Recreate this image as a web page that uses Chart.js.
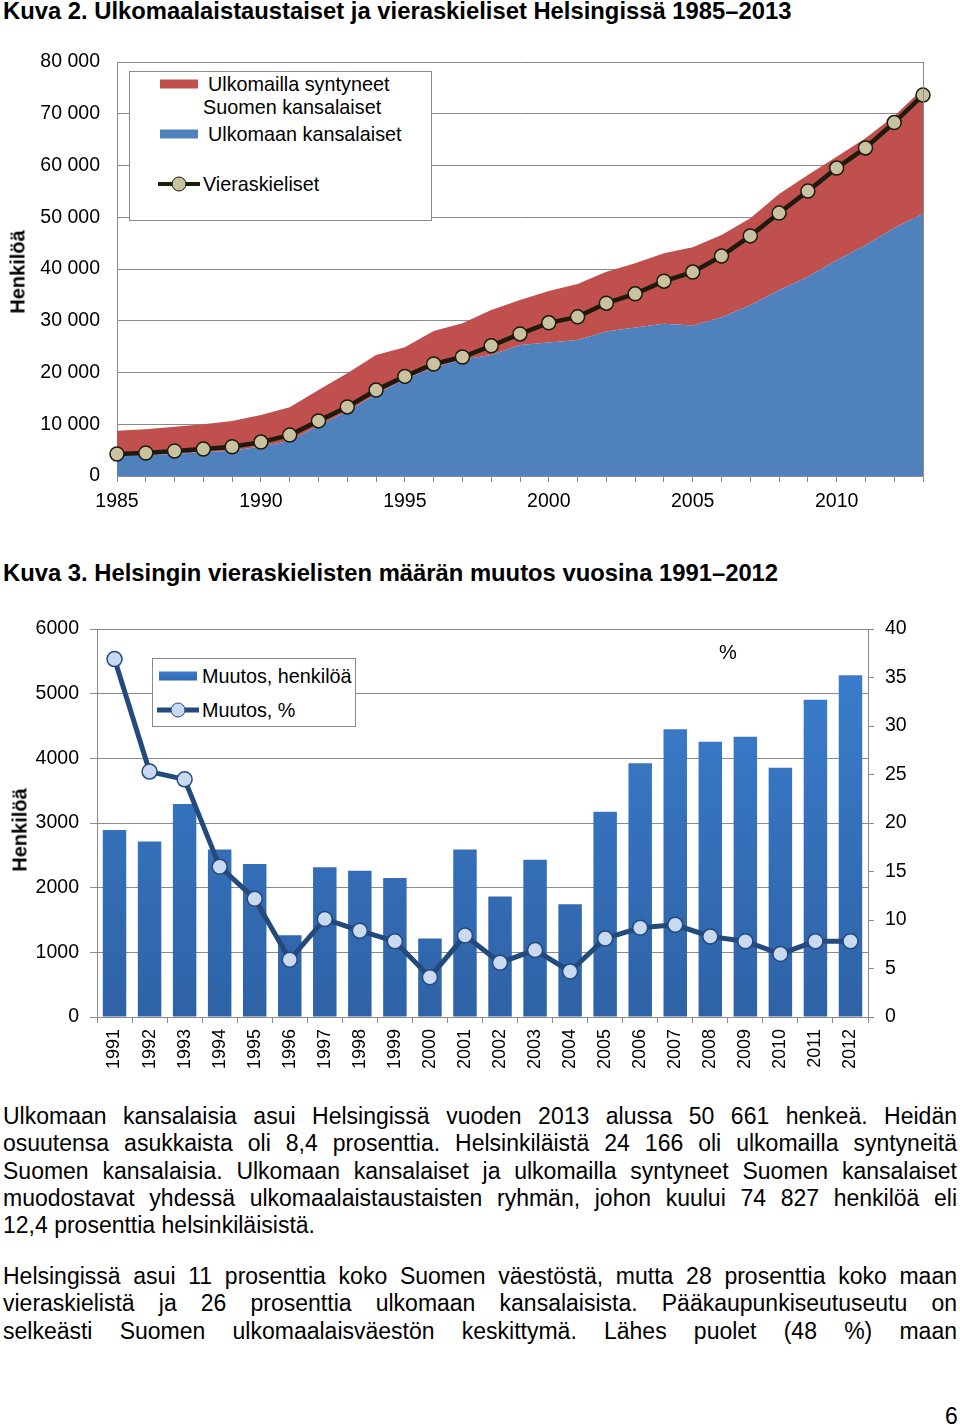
<!DOCTYPE html>
<html>
<head>
<meta charset="utf-8">
<script src="https://cdn.jsdelivr.net/npm/chart.js@4.4.1/dist/chart.umd.min.js"></script>
<style>
  body { margin: 0; background: #fff; font-family: "Liberation Sans", Arial, sans-serif; color: #000; }
  #page { position: relative; width: 960px; height: 1425px; overflow: hidden; }
  .abs { position: absolute; }
  .title { font-weight: bold; font-size: 23.8px; line-height: 26px; white-space: nowrap; left: 3px; }
  .ylab { font-weight: bold; font-size: 20px; white-space: nowrap; transform: translate(-50%, -50%) rotate(-90deg); }
  .legend { border: 1.5px solid #8a8a8a; background: #fff; box-sizing: border-box; }
  .leg { position: absolute; font-size: 19.8px; line-height: 22px; white-space: nowrap; transform: translateY(-50%); }
  .sw { position: absolute; height: 9px; width: 38px; transform: translateY(-50%); }
  .ln { position: absolute; width: 42px; transform: translateY(-50%); }
  .dot { position: absolute; border-radius: 50%; box-sizing: border-box; transform: translate(-50%, -50%); }
  .txt { left: 3px; width: 954px; font-size: 23px; line-height: 27.3px; }
  .j { text-align: justify; text-align-last: justify; white-space: nowrap; }
</style>
</head>
<body>
<div id="page">
  <div class="abs title" style="top:-2px">Kuva 2. Ulkomaalaistaustaiset ja vieraskieliset Helsingissä 1985–2013</div>
  <canvas id="c1" class="abs" width="960" height="490" style="left:0;top:40px"></canvas>
  <div class="abs ylab" style="left:18px;top:272px">Henkilöä</div>
  <div class="abs legend" style="left:129px;top:71px;width:303px;height:150px"></div>
  <div class="sw" style="left:160px;top:84px;background:#C0504D"></div>
  <div class="leg" style="left:208px;top:84px">Ulkomailla syntyneet</div>
  <div class="leg" style="left:203px;top:107px">Suomen kansalaiset</div>
  <div class="sw" style="left:160px;top:134px;background:#4F81BD"></div>
  <div class="leg" style="left:208px;top:134px">Ulkomaan kansalaiset</div>
  <div class="ln" style="left:158px;top:184px;height:4px;background:#1e1a0c"></div>
  <div class="dot" style="left:179px;top:184px;width:15px;height:15px;background:#C8C2A0;border:1.5px solid #1e1a0c"></div>
  <div class="leg" style="left:203px;top:184px">Vieraskieliset</div>

  <div class="abs title" style="top:560px">Kuva 3. Helsingin vieraskielisten määrän muutos vuosina 1991–2012</div>
  <canvas id="c2" class="abs" width="960" height="480" style="left:0;top:600px"></canvas>
  <div class="abs ylab" style="left:20px;top:830px">Henkilöä</div>
  <div class="abs" style="left:719px;top:641px;font-size:20px">%</div>
  <div class="abs legend" style="left:152px;top:658px;width:204px;height:69px"></div>
  <div class="sw" style="left:159px;top:676px;background:linear-gradient(#3C7FCE,#2F66AE)"></div>
  <div class="leg" style="left:202px;top:676px">Muutos, henkilöä</div>
  <div class="ln" style="left:157px;top:710px;height:5px;background:#24497C"></div>
  <div class="dot" style="left:178px;top:710px;width:15px;height:15px;background:#C9DAF0;border:1.5px solid #24497C"></div>
  <div class="leg" style="left:202px;top:710px">Muutos, %</div>

  <div class="abs txt" style="top:1103px">
    <div class="j">Ulkomaan kansalaisia asui Helsingissä vuoden 2013 alussa 50 661 henkeä. Heidän</div>
    <div class="j">osuutensa asukkaista oli 8,4 prosenttia. Helsinkiläistä 24 166 oli ulkomailla syntyneitä</div>
    <div class="j">Suomen kansalaisia. Ulkomaan kansalaiset ja ulkomailla syntyneet Suomen kansalaiset</div>
    <div class="j">muodostavat yhdessä ulkomaalaistaustaisten ryhmän, johon kuului 74 827 henkilöä eli</div>
    <div>12,4 prosenttia helsinkiläisistä.</div>
  </div>
  <div class="abs txt" style="top:1263px">
    <div class="j">Helsingissä asui 11 prosenttia koko Suomen väestöstä, mutta 28 prosenttia koko maan</div>
    <div class="j">vieraskielistä ja 26 prosenttia ulkomaan kansalaisista. Pääkaupunkiseutuseutu on</div>
    <div class="j">selkeästi Suomen ulkomaalaisväestön keskittymä. Lähes puolet (48 %) maan</div>
  </div>
  <div class="abs" style="left:945px;top:1403px;font-size:23px">6</div>
</div>

<script>
// Kuva 2 data
const years1 = [1985, 1986, 1987, 1988, 1989, 1990, 1991, 1992, 1993, 1994, 1995, 1996, 1997, 1998, 1999,
  2000, 2001, 2002, 2003, 2004, 2005, 2006, 2007, 2008, 2009, 2010, 2011, 2012, 2013];
const ulkomaanKansalaiset = [3900, 4000, 4300, 4600, 4900, 5700, 6800, 9700, 12500, 15800, 18700, 20900, 22500, 23400, 25300,
  25800, 26300, 27900, 28700, 29400, 29100, 30700, 33000, 35900, 38500, 41700, 44600, 47900, 50661];
const syntyneetSuomenKansalaiset = [4860, 5020, 5230, 5390, 5730, 6090, 6470, 6920, 7340, 7580, 6170, 7120, 7000, 8680, 8710,
  9950, 10800, 11580, 12400, 13630, 15090, 15870, 16800, 18590, 19660, 20000, 20650, 21660, 24166];
const vieraskieliset = [4250, 4450, 4830, 5200, 5650, 6550, 7900, 10650, 13350, 16600, 19250, 21650, 23000, 25150, 27450,
  29600, 30750, 33400, 35200, 37650, 39400, 42500, 46400, 50800, 55050, 59500, 63400, 68300, 73600];

// Kuva 3 data
const years2 = ['1991', '1992', '1993', '1994', '1995', '1996', '1997', '1998', '1999', '2000', '2001',
  '2002', '2003', '2004', '2005', '2006', '2007', '2008', '2009', '2010', '2011', '2012'];
const muutosHenkiloa = [2890, 2715, 3295, 2590, 2365, 1265, 2315, 2260, 2150, 1215, 2590,
  1865, 2430, 1745, 3175, 3925, 4450, 4255, 4335, 3855, 4905, 5285];
const muutosProsentti = [36.9, 25.3, 24.5, 15.5, 12.2, 5.9, 10.1, 8.9, 7.8, 4.1, 8.4,
  5.6, 6.9, 4.7, 8.1, 9.2, 9.5, 8.3, 7.8, 6.5, 7.8, 7.8];

const FONT = '"Liberation Sans", Arial, sans-serif';
const GRID = '#8a8a8a';

function spaced(v) {
  return String(v).replace(/\B(?=(\d{3})+(?!\d))/g, ' ');
}

// right edge of the plot in Kuva 2
const rightFrame = {
  id: 'rightFrame',
  afterDraw(chart) {
    const a = chart.chartArea, ctx = chart.ctx;
    ctx.save();
    ctx.strokeStyle = GRID;
    ctx.lineWidth = 1;
    ctx.beginPath();
    ctx.moveTo(Math.round(a.right) + 0.5, a.top);
    ctx.lineTo(Math.round(a.right) + 0.5, a.bottom);
    ctx.stroke();
    ctx.restore();
  }
};

new Chart(document.getElementById('c1'), {
  type: 'line',
  data: {
    labels: years1,
    datasets: [
      {
        label: 'Ulkomaan kansalaiset',
        data: ulkomaanKansalaiset,
        stack: 'a',
        order: 2,
        fill: 'origin',
        backgroundColor: '#4F81BD',
        borderWidth: 0,
        pointRadius: 0,
        tension: 0
      },
      {
        label: 'Ulkomailla syntyneet Suomen kansalaiset',
        data: syntyneetSuomenKansalaiset,
        stack: 'a',
        order: 3,
        fill: '-1',
        backgroundColor: '#C0504D',
        borderWidth: 0,
        pointRadius: 0,
        tension: 0
      },
      {
        label: 'Vieraskieliset',
        data: vieraskieliset,
        stack: 'b',
        order: 0,
        fill: false,
        borderColor: '#1e1a0c',
        borderWidth: 4.5,
        pointRadius: 7,
        pointBackgroundColor: '#C8C2A0',
        pointBorderColor: '#1e1a0c',
        pointBorderWidth: 1.5,
        tension: 0
      }
    ]
  },
  options: {
    responsive: false,
    animation: false,
    layout: { padding: { top: 22, right: 37, left: 0, bottom: 0 } },
    plugins: { legend: { display: false }, tooltip: { enabled: false } },
    scales: {
      x: {
        offset: false,
        grid: { drawOnChartArea: false, drawTicks: true, tickLength: 6, color: GRID },
        border: { color: GRID },
        ticks: {
          autoSkip: false, maxRotation: 0, color: '#000', padding: 8,
          font: { family: FONT, size: 19.5 },
          callback: (v, i) => (years1[i] % 5 === 0 ? String(years1[i]) : '')
        },
        afterFit: s => { s.height = 54; }
      },
      y: {
        stacked: true,
        min: 0, max: 80000,
        grid: { color: GRID, drawTicks: false },
        border: { color: GRID },
        ticks: {
          stepSize: 10000, color: '#000', padding: 17,
          font: { family: FONT, size: 19.5 },
          callback: v => spaced(v)
        },
        afterFit: s => { s.width = 117; s.paddingTop = 0; s.paddingBottom = 0; }
      }
    }
  },
  plugins: [rightFrame]
});

new Chart(document.getElementById('c2'), {
  type: 'bar',
  data: {
    labels: years2,
    datasets: [
      {
        type: 'line',
        label: 'Muutos, %',
        data: muutosProsentti,
        yAxisID: 'y1',
        order: 0,
        borderColor: '#24497C',
        borderWidth: 5,
        pointRadius: 7.5,
        pointBackgroundColor: '#C9DAF0',
        pointBorderColor: '#24497C',
        pointBorderWidth: 1.5,
        tension: 0
      },
      {
        label: 'Muutos, henkilöä',
        data: muutosHenkiloa,
        yAxisID: 'y',
        order: 1,
        barPercentage: 0.67,
        categoryPercentage: 1,
        backgroundColor: ctx => {
          const a = ctx.chart.chartArea;
          if (!a) return '#3672BE';
          const g = ctx.chart.ctx.createLinearGradient(0, a.top, 0, a.bottom);
          g.addColorStop(0, '#3C80D0');
          g.addColorStop(1, '#2E62A6');
          return g;
        }
      }
    ]
  },
  options: {
    responsive: false,
    animation: false,
    layout: { padding: { top: 29, right: 0, left: 0, bottom: 0 } },
    plugins: { legend: { display: false }, tooltip: { enabled: false } },
    scales: {
      x: {
        grid: { offset: true, drawOnChartArea: false, tickLength: 6, color: GRID },
        border: { color: GRID },
        ticks: {
          autoSkip: false, minRotation: 90, maxRotation: 90, color: '#000', padding: 6,
          font: { family: FONT, size: 18 }
        },
        afterFit: s => { s.height = 63; }
      },
      y: {
        position: 'left',
        min: 0, max: 6000,
        grid: { color: GRID, tickLength: 7 },
        border: { color: GRID },
        ticks: {
          stepSize: 1000, color: '#000', padding: 11, font: { family: FONT, size: 19.5 },
          callback: v => String(v)
        },
        afterFit: s => { s.width = 97; }
      },
      y1: {
        position: 'right',
        min: 0, max: 40,
        grid: { drawOnChartArea: false, tickLength: 6, color: GRID },
        border: { color: GRID },
        ticks: { stepSize: 5, color: '#000', padding: 11, font: { family: FONT, size: 19.5 } },
        afterFit: s => { s.width = 92; }
      }
    }
  }
});
</script>
</body>
</html>
